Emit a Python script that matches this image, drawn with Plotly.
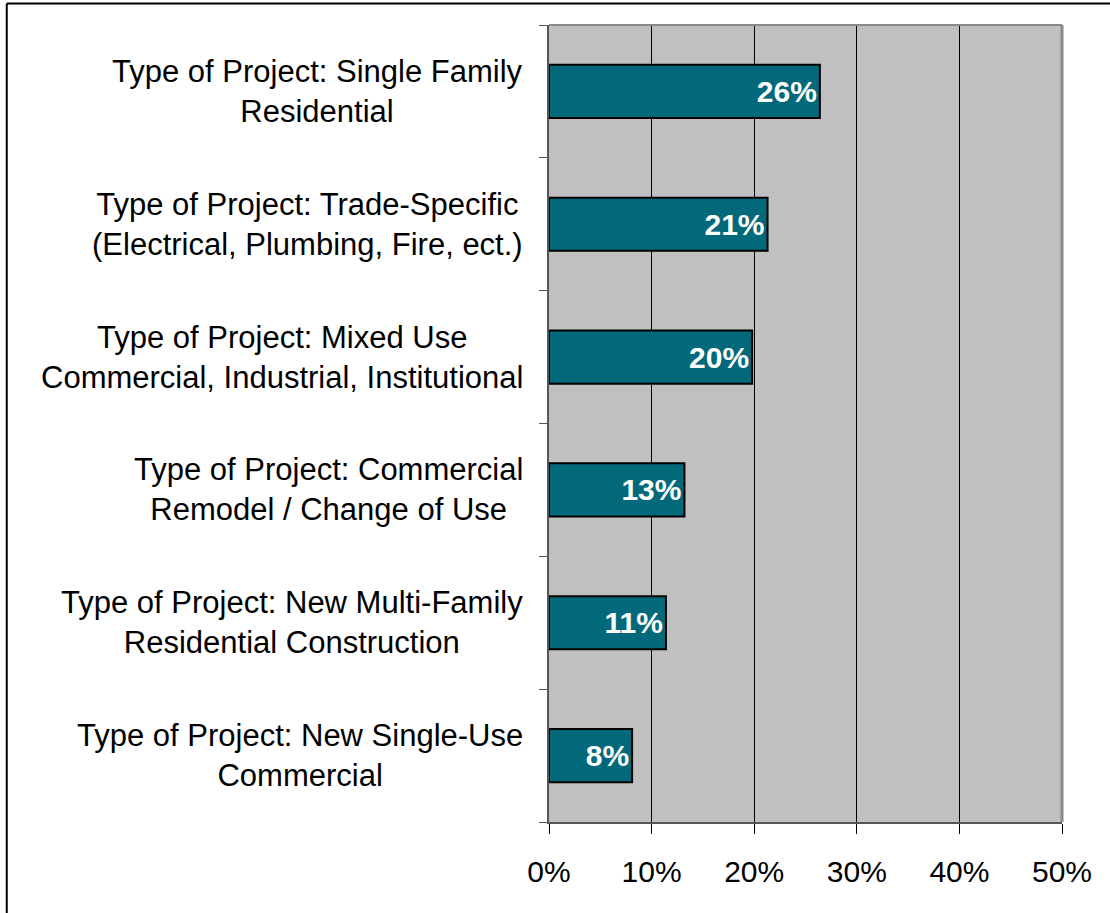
import plotly.graph_objects as go

# project types, top to bottom as drawn
categories = [
    "Type of Project: Single Family<br>Residential",
    "Type of Project: Trade-Specific<br>(Electrical, Plumbing, Fire, ect.)",
    "Type of Project: Mixed Use<br>Commercial, Industrial, Institutional",
    "Type of Project: Commercial<br>Remodel / Change of Use",
    "Type of Project: New Multi-Family<br>Residential Construction",
    "Type of Project: New Single-Use<br>Commercial",
]
shares = [0.264, 0.213, 0.198, 0.132, 0.114, 0.081]
bar_labels = ["26%", "21%", "20%", "13%", "11%", "8%"]
x_ticks = [0, 0.1, 0.2, 0.3, 0.4, 0.5]
x_ticktext = ["0%", "10%", "20%", "30%", "40%", "50%"]

font_family = "Liberation Sans, Arial, sans-serif"

fig = go.Figure()
fig.add_trace(go.Bar(
    y=categories, x=shares, orientation="h",
    marker=dict(color="#02697A", line=dict(color="black", width=2)),
    width=0.4,
    text=bar_labels, textposition="inside", insidetextanchor="end",
    textfont=dict(color="white", size=30, family=font_family),
    texttemplate="<b>%{text}</b>",
    cliponaxis=False,
))

# category labels as centered two-line annotations
for c in categories:
    fig.add_annotation(
        x=-0.047, y=c, xref="paper", yref="y", text=c,
        xanchor="right", yanchor="middle", align="center",
        showarrow=False, font=dict(size=31, family=font_family, color="black"),
    )

fig.update_layout(
    width=1110, height=913,
    margin=dict(l=549, r=48, t=25, b=91),
    paper_bgcolor="white", plot_bgcolor="#C0C0C0",
    showlegend=False,
    font=dict(family=font_family, size=30, color="black"),
)
fig.update_xaxes(
    range=[0, 0.5], tickvals=x_ticks, ticktext=x_ticktext,
    showgrid=True, gridcolor="black", gridwidth=1,
    ticks="outside", ticklen=10, tickcolor="black",
    ticklabelstandoff=12,
    showline=True, linecolor="#555555", linewidth=2,
    zeroline=False, mirror=False,
    tickfont=dict(size=30, family=font_family),
)
fig.update_yaxes(
    categoryorder="array", categoryarray=categories[::-1],
    showticklabels=False, tickson="boundaries",
    ticks="outside", ticklen=8, tickcolor="#555555",
    showline=True, linecolor="#555555", linewidth=2,
    showgrid=False,
)

# top and right edges of the plot area
fig.add_shape(type="line", xref="paper", yref="paper", x0=1, x1=1, y0=0, y1=1,
              line=dict(color="#8a8a8a", width=3))
fig.add_shape(type="line", xref="paper", yref="paper", x0=0, x1=1, y0=1, y1=1,
              line=dict(color="#8a8a8a", width=2))
# outer frame: only top and left edges show
fig.add_shape(type="line", xref="paper", yref="paper", x0=-1.057, x1=1.2, y0=1.027, y1=1.027,
              line=dict(color="black", width=2))
fig.add_shape(type="line", xref="paper", yref="paper", x0=-1.057, x1=-1.057, y0=-0.2, y1=1.027,
              line=dict(color="black", width=2))

fig.write_html("out.html", config={"displayModeBar": False},
               post_script="document.body.style.margin='0';")
